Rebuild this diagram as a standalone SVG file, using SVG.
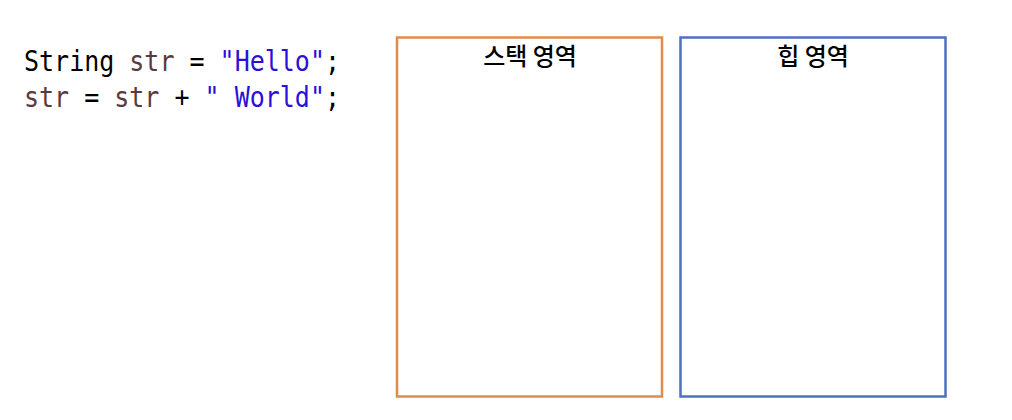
<svg xmlns="http://www.w3.org/2000/svg" width="1012" height="420" viewBox="0 0 1012 420">
<style>
.code{font-family:"DejaVu Sans Mono","Liberation Mono",monospace;font-size:28px;fill:#000}
.var{fill:#5a3a3a}
.str{fill:#2a0fd8}
.lbl{font-family:"Noto Sans CJK KR","Noto Sans",sans-serif;font-size:24px;font-weight:500;fill:#000;text-anchor:middle}
.box{fill:#fff;stroke-width:2.5}
</style>
<rect width="1012" height="420" fill="#fff"/>
<g id="code">
<text class="code" transform="translate(24,71) scale(0.893,1)">String <tspan class="var">str</tspan> = <tspan class="str">"Hello"</tspan>;</text>
<text class="code" transform="translate(24,107) scale(0.893,1)"><tspan class="var">str</tspan> = <tspan class="var">str</tspan> + <tspan class="str">" World"</tspan>;</text>
</g>
<g id="stack">
<rect class="box" x="397" y="37.5" width="265" height="359" stroke="#e08c4c"/>
<text class="lbl" x="530" y="65">스택 영역</text>
</g>
<g id="heap">
<rect class="box" x="680.5" y="37.5" width="265" height="359" stroke="#4d70c2"/>
<text class="lbl" x="813" y="65">힙 영역</text>
</g>
<g id="connectors"></g>
</svg>
